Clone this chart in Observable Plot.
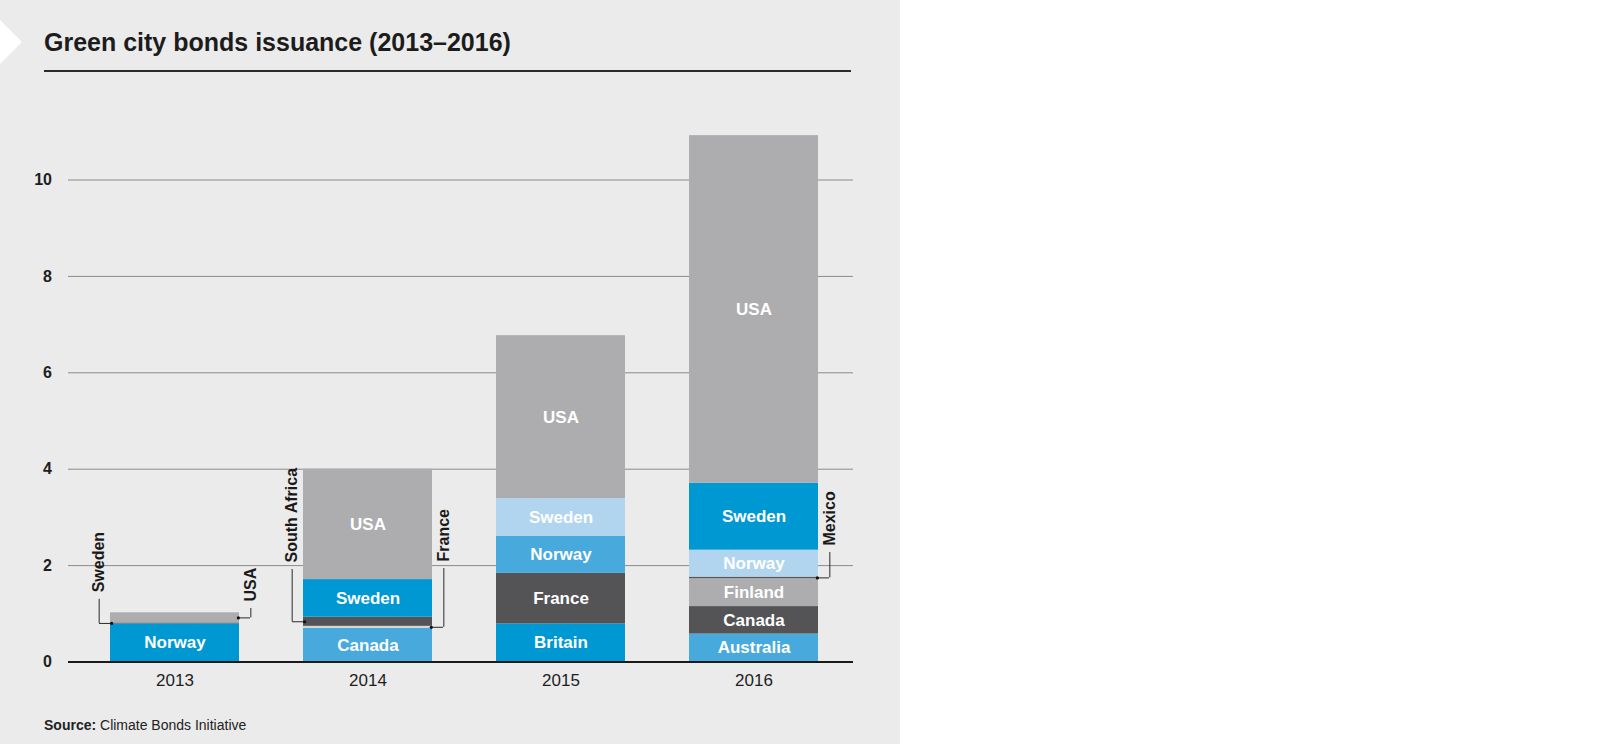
<!DOCTYPE html>
<html>
<head>
<meta charset="utf-8">
<script src="https://cdn.jsdelivr.net/npm/d3@7"></script>
<script src="https://cdn.jsdelivr.net/npm/@observablehq/plot@0.6"></script>
<style>
  body { margin: 0; background: #ffffff; font-family: "Liberation Sans", Arial, sans-serif; }
  #panel { position: relative; width: 900px; height: 744px; background: #ebebeb; overflow: hidden; }
  #chev { position: absolute; left: 0; top: 0; }
  #title { position: absolute; left: 44px; top: 30px; font-size: 25px; line-height: 25px; font-weight: bold; color: #1c1c1c; white-space: nowrap; }
  #rule { position: absolute; left: 44px; top: 69.5px; width: 807px; height: 2px; background: #2a2a2a; }
  #chart { position: absolute; left: 0; top: 80px; }
  #source { position: absolute; left: 44px; top: 718px; font-size: 14px; line-height: 14px; color: #222; white-space: nowrap; }
</style>
</head>
<body>
<div id="panel">
  <svg id="chev" width="30" height="80"><polygon points="0,20 22,42 0,64" fill="#ffffff"/></svg>
  <div id="title">Green city bonds issuance (2013–2016)</div>
  <div id="rule"></div>
  <div id="chart"></div>
  <div id="source"><b>Source:</b> Climate Bonds Initiative</div>
</div>
<script>
// ---- data ----
const years = ["2013", "2014", "2015", "2016"];
const segYear = ["2013","2013","2013",
                 "2014","2014","2014","2014","2014",
                 "2015","2015","2015","2015","2015",
                 "2016","2016","2016","2016","2016","2016","2016"];
const segCountry = ["Norway","Sweden","USA",
                    "Canada","France","South Africa","Sweden","USA",
                    "Britain","France","Norway","Sweden","USA",
                    "Australia","Canada","Finland","Mexico","Norway","Sweden","USA"];
const segValue = [0.79, 0.02, 0.21,
                  0.70, 0.04, 0.19, 0.78, 2.29,
                  0.79, 1.05, 0.77, 0.78, 3.38,
                  0.58, 0.57, 0.58, 0.03, 0.56, 1.39, 7.21];
const yTicks = [0, 2, 4, 6, 8, 10];

// small segments labelled outside the bar
const calloutKeys = ["2013 Sweden", "2013 USA", "2014 South Africa", "2014 France", "2016 Mexico"];

// ---- layout / style ----
const calloutSide = {"2013 Sweden": "left", "2013 USA": "right", "2014 South Africa": "left", "2014 France": "right", "2016 Mexico": "right"};
const calloutTop = {"2013 Sweden": 1.30, "2013 USA": 1.11, "2014 South Africa": 1.92, "2014 France": 1.94, "2016 Mexico": 2.27};

const C = {mid: "#0098d3", med: "#48a9dd", pale: "#b1d5ef", dark: "#545456", gray: "#adadaf", thin: "#d6d6d6"};
const shade = {
  "2013 Norway": C.mid, "2013 Sweden": C.dark, "2013 USA": C.gray,
  "2014 Canada": C.med, "2014 France": C.thin, "2014 South Africa": C.dark, "2014 Sweden": C.mid, "2014 USA": C.gray,
  "2015 Britain": C.mid, "2015 France": C.dark, "2015 Norway": C.med, "2015 Sweden": C.pale, "2015 USA": C.gray,
  "2016 Australia": C.med, "2016 Canada": C.dark, "2016 Finland": C.gray, "2016 Mexico": C.dark,
  "2016 Norway": C.pale, "2016 Sweden": C.mid, "2016 USA": C.gray
};

// ---- build rows with stacked extents ----
const cum = {};
const rows = segYear.map((yr, i) => {
  const base = cum[yr] || 0;
  const top = base + segValue[i];
  cum[yr] = top;
  const key = yr + " " + segCountry[i];
  return {year: yr, country: segCountry[i], value: segValue[i], y1: base, y2: top, mid: (base + top) / 2, key};
});
const inside = rows.filter(d => !calloutKeys.includes(d.key));
const callouts = rows.filter(d => calloutKeys.includes(d.key)).map(d => ({...d, side: calloutSide[d.key], top: calloutTop[d.key]}));
const leftC = callouts.filter(d => d.side === "left");
const rightC = callouts.filter(d => d.side === "right");

const W = 900, H = 620;
const mL = 68, mR = 47, mT = 3.1, mB = 38.5;
const pIn = 0.33, pOut = 0.193, align = 0.549;
const bw = d3.scaleBand(years, [mL, W - mR]).paddingInner(pIn).paddingOuter(pOut).align(align).bandwidth();
const reach = 11;
const off = bw / 2 + reach;

const font = "'Liberation Sans', Arial, sans-serif";

const chart = Plot.plot({
  width: W, height: H,
  marginLeft: mL, marginRight: mR, marginTop: mT, marginBottom: mB,
  style: {background: "transparent", fontFamily: font, color: "#1e1e1e", overflow: "visible"},
  x: {domain: years, paddingInner: pIn, paddingOuter: pOut, align, label: null},
  y: {domain: [0, 12], label: null},
  color: {type: "identity"},
  marks: [
    Plot.ruleY(yTicks.filter(t => t > 0), {stroke: "#8a8a8a", strokeWidth: 1}),
    Plot.barY(rows, {x: "year", y1: "y1", y2: "y2", fill: d => shade[d.key]}),
    Plot.ruleY([0], {stroke: "#1a1a1a", strokeWidth: 2}),
    Plot.axisY(yTicks, {tickSize: 0, tickPadding: 16.5, fontSize: 16, fontWeight: "bold", fill: "#1e1e1e", label: null}),
    Plot.axisX({tickSize: 0, tickPadding: 11.5, fontSize: 17, fill: "#1e1e1e", label: null}),
    Plot.text(inside, {x: "year", y: "mid", text: "country", fill: "#ffffff", fontSize: 17, fontWeight: "bold"}),
    // leaders, left side
    Plot.tickY(leftC, {x: "year", y: "mid", dx: -reach, insetRight: bw - reach - 1.5, stroke: "#2a2a2a", strokeWidth: 1}),
    Plot.ruleX(leftC, {x: "year", y1: "mid", y2: "top", dx: -off, stroke: "#2a2a2a", strokeWidth: 1}),
    Plot.dot(leftC, {x: "year", y: "mid", dx: -bw / 2 + 1.5, r: 1.6, fill: "#111", stroke: null}),
    Plot.text(leftC, {x: "year", y: "top", dx: -off, dy: -7, text: "country", rotate: -90, textAnchor: "start", fontSize: 16, fontWeight: "bold", fill: "#1a1a1a"}),
    // leaders, right side
    Plot.tickY(rightC, {x: "year", y: "mid", dx: reach, insetLeft: bw - reach - 1.5, stroke: "#2a2a2a", strokeWidth: 1}),
    Plot.ruleX(rightC, {x: "year", y1: "mid", y2: "top", dx: off, stroke: "#2a2a2a", strokeWidth: 1}),
    Plot.dot(rightC, {x: "year", y: "mid", dx: bw / 2 - 1.5, r: 1.6, fill: "#111", stroke: null}),
    Plot.text(rightC, {x: "year", y: "top", dx: off, dy: -7, text: "country", rotate: -90, textAnchor: "start", fontSize: 16, fontWeight: "bold", fill: "#1a1a1a"})
  ]
});
document.getElementById("chart").appendChild(chart);
</script>
</body>
</html>
